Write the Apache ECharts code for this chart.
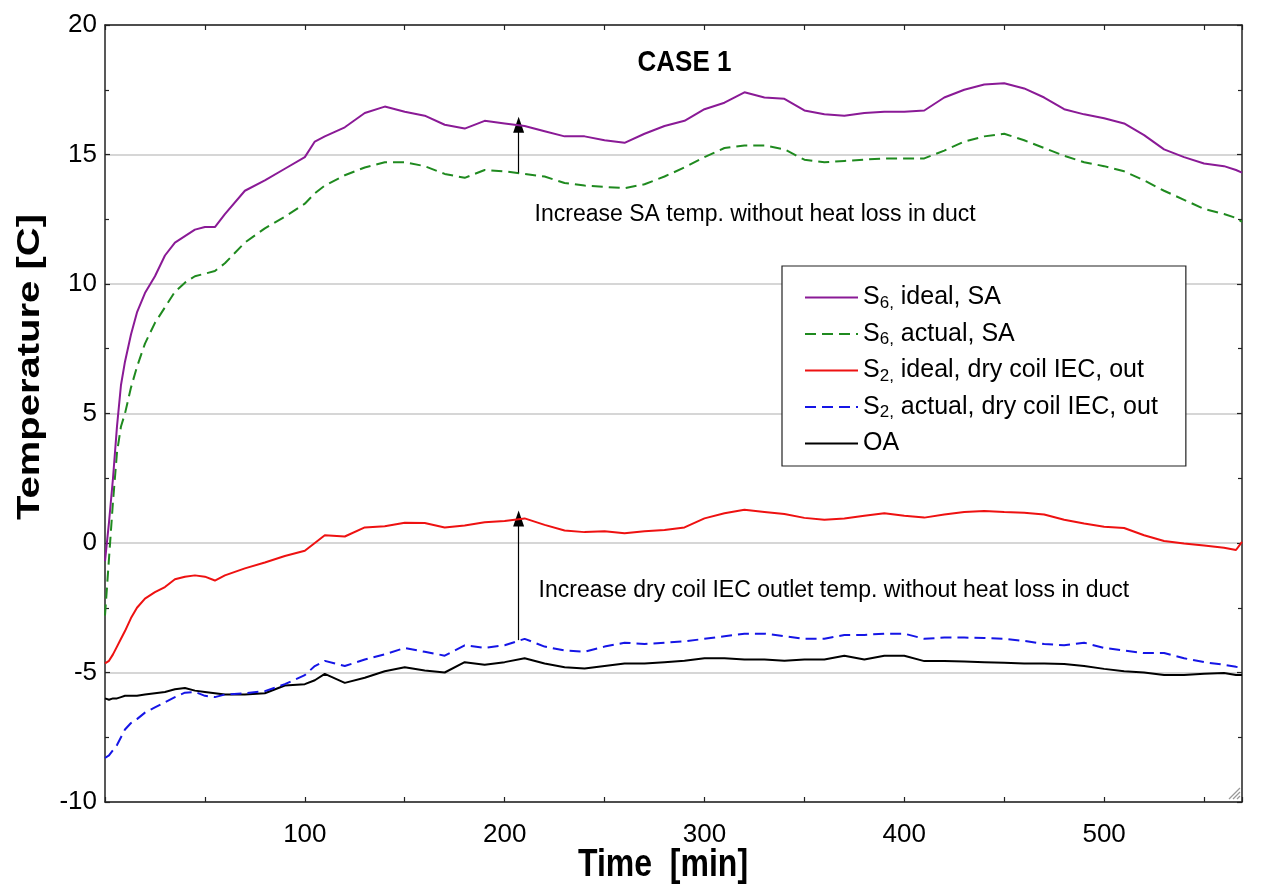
<!DOCTYPE html>
<html>
<head>
<meta charset="utf-8">
<script src="https://cdn.jsdelivr.net/npm/echarts@6/dist/echarts.min.js"></script>
<style>
  html, body { margin: 0; padding: 0; background: #fff; }
  #chart { width: 1279px; height: 890px; }
</style>
</head>
<body>
<div id="chart"></div>
<script>
// ---- data ----
const times = [0,2,4,6,8,10,13,16,20,25,30,35,40,45,50,55,60,70,80,90,100,105,
  110,120,130,140,150,160,170,180,190,200,210,220,230,240,250,260,270,280,290,300,
  310,320,330,340,350,360,370,380,390,400,410,420,430,440,450,460,470,480,490,500,
  510,520,530,540,550,560,566,569];

const s6Ideal = [-0.7,0.8,2.5,4.5,6.1,7.0,8.05,8.9,9.65,10.3,11.1,11.6,11.85,12.1,12.2,12.2,12.7,13.6,14.0,14.45,14.9,15.5,
  15.7,16.05,16.6,16.85,16.65,16.5,16.15,16.0,16.3,16.2,16.1,15.9,15.7,15.7,15.55,15.45,15.8,16.1,16.3,16.75,
  17.0,17.4,17.2,17.15,16.7,16.55,16.5,16.6,16.65,16.65,16.7,17.2,17.5,17.7,17.75,17.55,17.2,16.75,16.55,16.4,
  16.2,15.75,15.2,14.9,14.65,14.55,14.4,14.3];

const s6Actual = [-2.8,-0.6,1.6,3.5,4.5,5.0,6.0,6.8,7.7,8.5,9.1,9.7,10.05,10.3,10.4,10.5,10.8,11.6,12.15,12.6,13.1,13.5,
  13.8,14.2,14.5,14.7,14.7,14.55,14.25,14.1,14.4,14.35,14.25,14.15,13.9,13.8,13.75,13.7,13.85,14.15,14.5,14.9,
  15.25,15.35,15.35,15.2,14.8,14.7,14.75,14.8,14.85,14.85,14.85,15.15,15.5,15.7,15.8,15.55,15.25,14.95,14.7,14.55,
  14.35,14.0,13.6,13.25,12.9,12.7,12.55,12.4];

const s2Ideal = [-4.65,-4.55,-4.3,-4.0,-3.7,-3.4,-2.9,-2.5,-2.15,-1.9,-1.7,-1.4,-1.3,-1.25,-1.3,-1.45,-1.25,-0.98,-0.75,-0.5,-0.3,0.0,
  0.3,0.25,0.6,0.65,0.78,0.77,0.6,0.68,0.8,0.85,0.95,0.7,0.48,0.42,0.45,0.38,0.45,0.5,0.6,0.95,
  1.15,1.28,1.2,1.12,0.97,0.9,0.95,1.05,1.15,1.05,0.98,1.1,1.2,1.24,1.2,1.17,1.1,0.9,0.75,0.63,
  0.58,0.3,0.08,-0.02,-0.1,-0.18,-0.27,0.04];

const s2Actual = [-8.3,-8.2,-8.0,-7.8,-7.5,-7.2,-6.95,-6.8,-6.55,-6.35,-6.15,-5.95,-5.78,-5.75,-5.9,-5.95,-5.85,-5.8,-5.72,-5.45,-5.1,-4.75,
  -4.55,-4.75,-4.5,-4.3,-4.05,-4.2,-4.35,-3.95,-4.05,-3.95,-3.7,-4.0,-4.15,-4.2,-4.0,-3.85,-3.9,-3.85,-3.8,-3.7,
  -3.6,-3.5,-3.5,-3.6,-3.7,-3.7,-3.55,-3.55,-3.5,-3.5,-3.7,-3.65,-3.65,-3.67,-3.7,-3.78,-3.9,-3.95,-3.85,-4.05,
  -4.15,-4.25,-4.25,-4.45,-4.6,-4.7,-4.78,-4.8];

const oa = [-6.0,-6.05,-6.0,-6.0,-5.95,-5.9,-5.9,-5.9,-5.85,-5.8,-5.75,-5.65,-5.6,-5.7,-5.75,-5.8,-5.85,-5.85,-5.8,-5.5,-5.45,-5.3,
  -5.05,-5.4,-5.2,-4.95,-4.8,-4.92,-5.0,-4.6,-4.7,-4.6,-4.45,-4.65,-4.8,-4.85,-4.75,-4.65,-4.65,-4.6,-4.55,-4.45,
  -4.45,-4.5,-4.5,-4.55,-4.5,-4.5,-4.35,-4.5,-4.35,-4.35,-4.56,-4.56,-4.58,-4.6,-4.62,-4.65,-4.65,-4.67,-4.75,-4.86,
  -4.95,-5.0,-5.1,-5.1,-5.05,-5.02,-5.1,-5.1];

const seriesNames = ['S6, ideal, SA', 'S6, actual, SA', 'S2, ideal, dry coil IEC, out', 'S2, actual, dry coil IEC, out', 'OA'];

// arrows: [time, from value, to value]
const arrowSA = [207, 14.3, 16.15];
const arrowIEC = [207, -3.75, 0.95];

const titleText = 'CASE 1';
const note1 = 'Increase SA temp. without heat loss in duct';
const note2 = 'Increase dry coil IEC outlet temp. without heat loss in duct';
const xTitle = 'Time  [min]';
const yTitle = 'Temperature [C]';

// ---- chart ----
const FONT = '"Liberation Sans", Arial, Helvetica, sans-serif';
const pairs = vals => times.map((t, i) => [t, vals[i]]);
const chart = echarts.init(document.getElementById('chart'), null, { renderer: 'canvas' });

function arrowLine(a) {
  return {
    silent: true,
    symbol: ['none', 'triangle'],
    symbolSize: [11, 16],
    label: { show: false },
    lineStyle: { color: '#000', width: 1.2, type: 'solid' },
    itemStyle: { color: '#000' },
    data: [[{ coord: [a[0], a[1]] }, { coord: [a[0], a[2]] }]]
  };
}

const axisLineStyle = { show: true, onZero: false, lineStyle: { color: '#222', width: 1.5 } };
const tickStyle = { show: true, inside: true, length: 5, lineStyle: { color: '#222', width: 1.2 } };

const option = {
  backgroundColor: '#fff',
  animation: false,
  grid: { left: 105, top: 25, right: 37, bottom: 88, containLabel: false },
  xAxis: [
    {
      type: 'value', min: 0, max: 569, interval: 50, position: 'bottom',
      axisLine: axisLineStyle, axisTick: tickStyle,
      splitLine: { show: false },
      axisLabel: {
        fontSize: 26, fontFamily: FONT, color: '#000', margin: 20,
        formatter: v => (v > 0 && v % 100 === 0) ? String(v) : ''
      }
    },
    {
      type: 'value', min: 0, max: 569, interval: 50, position: 'top',
      axisLine: axisLineStyle, axisTick: tickStyle,
      splitLine: { show: false },
      axisLabel: { show: false }
    }
  ],
  yAxis: [
    {
      type: 'value', min: -10, max: 20, interval: 5, position: 'left',
      axisLine: axisLineStyle, axisTick: tickStyle,
      minorTick: { show: true, splitNumber: 2, length: 4, lineStyle: { color: '#222', width: 1.2 } },
      splitLine: { show: true, lineStyle: { color: '#c8c8c8', width: 1.5 } },
      axisLabel: { fontSize: 26, fontFamily: FONT, color: '#000', margin: 8 }
    },
    {
      type: 'value', min: -10, max: 20, interval: 5, position: 'right',
      axisLine: axisLineStyle, axisTick: tickStyle,
      minorTick: { show: true, splitNumber: 2, length: 4, lineStyle: { color: '#222', width: 1.2 } },
      splitLine: { show: false },
      axisLabel: { show: false }
    }
  ],
  legend: {
    orient: 'vertical',
    left: 782, top: 266,
    padding: [19, 28, 10, 22],
    itemGap: 10,
    itemWidth: 53, itemHeight: 14,
    backgroundColor: '#fff',
    borderColor: '#222', borderWidth: 1.2,
    itemStyle: { opacity: 0 },
    data: seriesNames,
    formatter: name => {
      const m = name.match(/^S(\d),(.*)$/);
      return m ? `{m|S}{s|${m[1]},}{m|${m[2]}}` : `{m|${name}}`;
    },
    textStyle: {
      fontFamily: FONT, fontSize: 25, color: '#000',
      rich: {
        m: { fontFamily: FONT, fontSize: 25, color: '#000', lineHeight: 28 },
        s: { fontFamily: FONT, fontSize: 17, color: '#000', lineHeight: 14, verticalAlign: 'bottom' }
      }
    }
  },
  series: [
    {
      name: seriesNames[0], type: 'line', data: pairs(s6Ideal), symbol: 'none',
      lineStyle: { color: '#8a1a96', width: 2 }, itemStyle: { color: '#8a1a96' }, z: 5
    },
    {
      name: seriesNames[1], type: 'line', data: pairs(s6Actual), symbol: 'none',
      lineStyle: { color: '#1f8a1f', width: 2, type: [11, 6] }, itemStyle: { color: '#1f8a1f' }, z: 4,
      markLine: arrowLine(arrowSA)
    },
    {
      name: seriesNames[2], type: 'line', data: pairs(s2Ideal), symbol: 'none',
      lineStyle: { color: '#ee1111', width: 2 }, itemStyle: { color: '#ee1111' }, z: 5
    },
    {
      name: seriesNames[3], type: 'line', data: pairs(s2Actual), symbol: 'none',
      lineStyle: { color: '#1515e6', width: 2, type: [11, 6] }, itemStyle: { color: '#1515e6' }, z: 4,
      markLine: arrowLine(arrowIEC)
    },
    {
      name: seriesNames[4], type: 'line', data: pairs(oa), symbol: 'none',
      lineStyle: { color: '#000', width: 2 }, itemStyle: { color: '#000' }, z: 3
    }
  ]
};
chart.setOption(option);

// annotations placed through the chart's own coordinate conversion
const px = (x, y) => chart.convertToPixel({ xAxisIndex: 0, yAxisIndex: 0 }, [x, y]);
const pTitle = px(290, 18.53);
const pN1 = px(215, 12.66);
const pN2 = px(217, -1.85);
chart.setOption({
  graphic: [
    { type: 'text', x: pTitle[0], y: pTitle[1], style: { text: titleText, font: `bold 26px ${FONT}`, fill: '#000', align: 'center', verticalAlign: 'middle' }, scaleY: 1.1 },
    { type: 'text', x: pN1[0], y: pN1[1], style: { text: note1, font: `23px ${FONT}`, fill: '#000', align: 'left', verticalAlign: 'middle' } },
    { type: 'text', x: pN2[0], y: pN2[1], style: { text: note2, font: `23px ${FONT}`, fill: '#000', align: 'left', verticalAlign: 'middle' } },
    { type: 'text', x: 663, y: 865, style: { text: xTitle, font: `bold 32px ${FONT}`, fill: '#000', align: 'center', verticalAlign: 'middle' }, scaleY: 1.2 },
    { type: 'text', x: 30, y: 367, rotation: Math.PI / 2, style: { text: yTitle, font: `bold 32px ${FONT}`, fill: '#000', align: 'center', verticalAlign: 'middle' }, scaleX: 1.25 },
    // resize-grip marks at lower right corner
    { type: 'line', shape: { x1: 1229, y1: 799, x2: 1240, y2: 788 }, style: { stroke: '#999', lineWidth: 1.2 } },
    { type: 'line', shape: { x1: 1233, y1: 799, x2: 1240, y2: 792 }, style: { stroke: '#999', lineWidth: 1.2 } },
    { type: 'line', shape: { x1: 1237, y1: 799, x2: 1240, y2: 796 }, style: { stroke: '#999', lineWidth: 1.2 } }
  ]
});
</script>
</body>
</html>
